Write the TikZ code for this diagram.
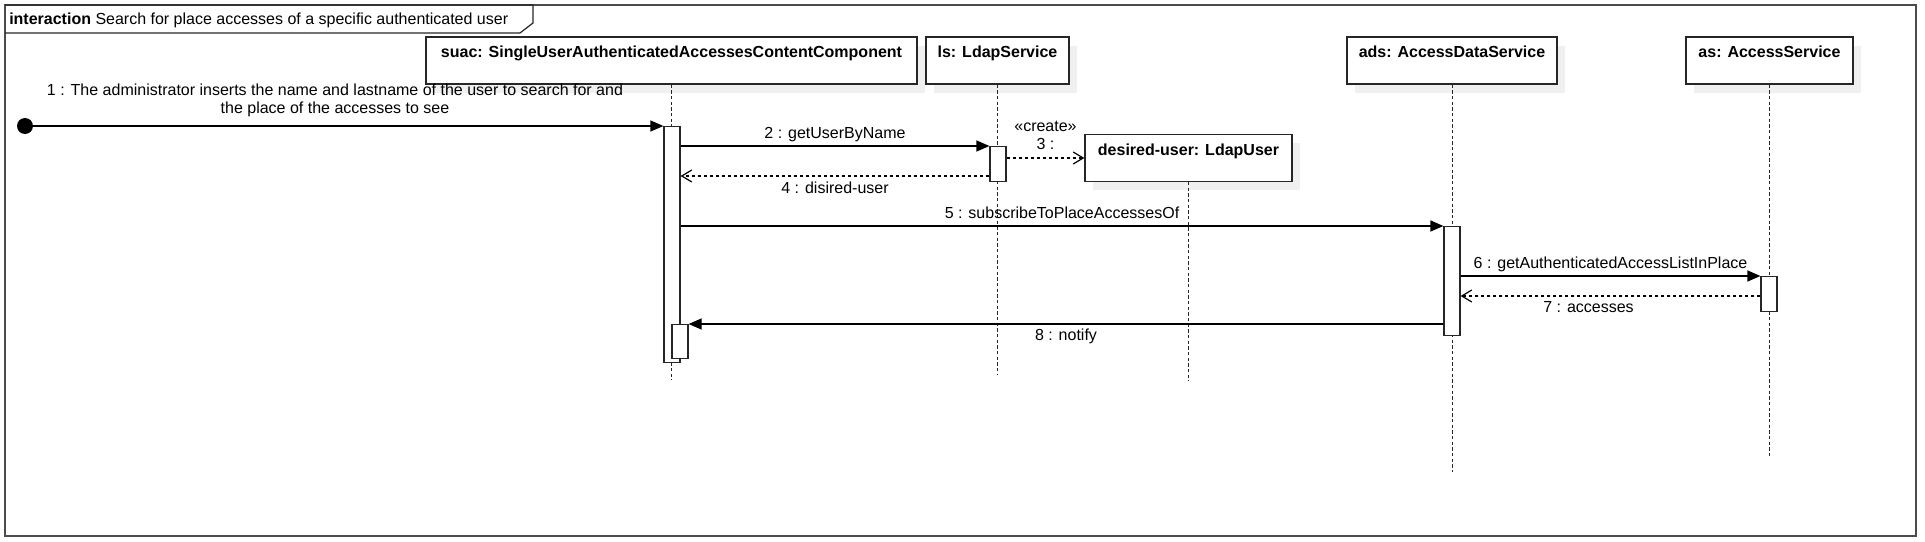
\documentclass[tikz,border=0pt]{standalone}
\usepackage{fontspec}
\setmainfont{Liberation Sans}
\usetikzlibrary{arrows.meta,shadows}

\begin{document}
\begin{tikzpicture}[x=0.75pt,y=-0.75pt,
  font=\fontsize{12pt}{13.5pt}\selectfont,
  every node/.style={inner sep=0pt},
  lifehead/.style={draw=black!85,line width=0.9pt,fill=white,
    drop shadow={shadow xshift=6pt,shadow yshift=-6.5pt,fill=black!6,opacity=1},
    minimum height=35.25pt,text height=15.5pt,text depth=19.75pt,
    font=\fontsize{12pt}{13.5pt}\selectfont\bfseries},
  act/.style={draw=black!85,line width=0.9pt,fill=white,minimum width=12pt,anchor=north},
  life/.style={black!85,line width=0.75pt,dash pattern=on 2.5pt off 1.75pt},
  sync/.style={line width=0.9pt,-{Triangle[length=9.75pt,width=8.25pt]}},
  reply/.style={line width=0.9pt,dash pattern=on 2.5pt off 2pt,
    -{Straight Barb[length=7.5pt,width=9pt]}}]
  \useasboundingbox (0,0) rectangle (1925,542);

  % frame
  \draw[line width=1.5pt,black!70] (5,5) rectangle (1916,536);
  \draw[line width=0.9pt,black!85] (5,5) -- (533,5) -- (533,23) -- (520,33) -- (5,33);
  \node[anchor=base west] (title) at (9,24.5)
    {\textbf{interaction} Search for place accesses of a specific authenticated user};

  % lifelines
  \node[lifehead,minimum width=368.25pt] (suac) at (671.5,60.5)
    {suac: SingleUserAuthenticatedAccessesContentComponent};
  \node[lifehead,minimum width=107.25pt] (ls) at (997.5,60.5) {ls: LdapService};
  \node[lifehead,minimum width=157.5pt] (ads) at (1452,60.5) {ads: AccessDataService};
  \node[lifehead,minimum width=125.25pt] (as) at (1769.5,60.5) {as: AccessService};
  \node[lifehead,minimum width=155.25pt] (user) at (1188.5,158) {desired-user: LdapUser};

  \draw[life] (suac.south) -- ++(0,295);
  \draw[life] (ls.south) -- ++(0,290);
  \draw[life] (user.south) -- ++(0,199);
  \draw[life] (ads.south) -- ++(0,387);
  \draw[life] (as.south) -- ++(0,371);

  % activations
  \node[act,minimum height=177pt] (a1) at (672,126) {};
  \node[act,minimum height=26.25pt] (a2) at (998,146) {};
  \node[act,minimum height=81.75pt] (a3) at (1452,226) {};
  \node[act,minimum height=26.25pt] (a4) at (1769,276) {};
  \node[act,minimum height=25.5pt] (a5) at (680,324) {};

  \node[circle,fill=black,minimum size=12pt] (start) at (25,126) {};

  % messages
  \draw[sync] (start) -- (a1.north west)
    node[midway,anchor=south,xshift=-10pt,yshift=6.5pt,align=center]
    {1 : The administrator inserts the name and lastname of the user to search for and\\the place of the accesses to see};
  \draw[sync] (a1.east |- a2.north) -- (a2.north west)
    node[midway,anchor=base,yshift=6pt] {2 : getUserByName};
  \draw[reply] (a2.east |- user.west) -- (user.west)
    node[midway,anchor=south,yshift=6pt,align=center] {«create»\\3 :};
  \draw[reply] (a2.west |- 0,176) -- (a1.east |- 0,176)
    node[midway,anchor=base,yshift=-12.75pt] {4 : disired-user};
  \draw[sync] (a1.east |- a3.north) -- (a3.north west)
    node[midway,anchor=base,yshift=6pt] {5 : subscribeToPlaceAccessesOf};
  \draw[sync] (a3.east |- a4.north) -- (a4.north west)
    node[midway,anchor=base,yshift=6pt] {6 : getAuthenticatedAccessListInPlace};
  \draw[reply] (a4.west |- 0,296) -- (a3.east |- 0,296)
    node[midway,anchor=base,xshift=-16.5pt,yshift=-12pt] {7 : accesses};
  \draw[sync] (a3.west |- a5.north) -- (a5.north east)
    node[midway,anchor=base,yshift=-12pt] {8 : notify};
\end{tikzpicture}
\end{document}
